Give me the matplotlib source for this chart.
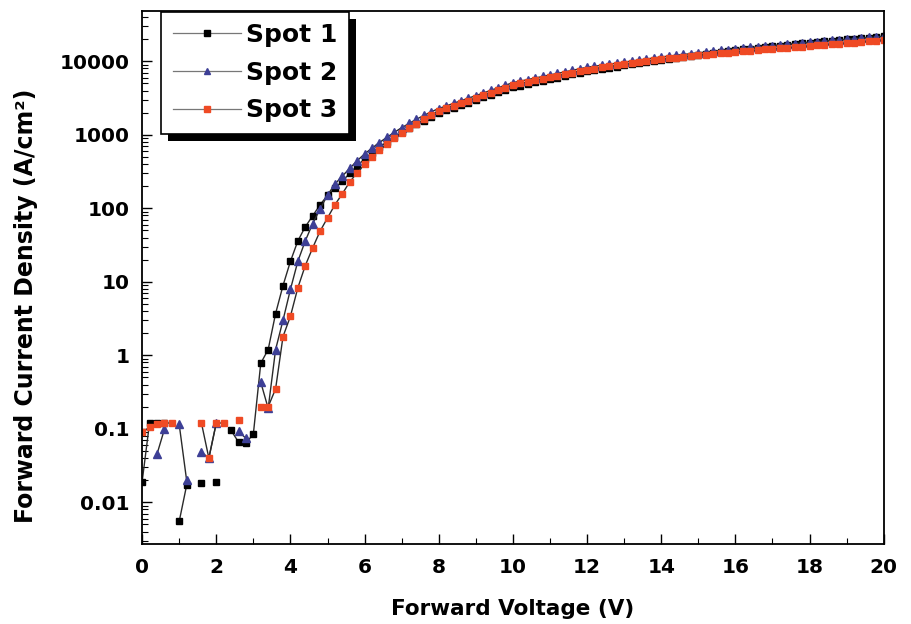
import numpy as np
import matplotlib
matplotlib.use('Agg')
import matplotlib.pyplot as plt
from matplotlib.patches import Rectangle
from matplotlib.transforms import IdentityTransform
from matplotlib.ticker import MultipleLocator, LogLocator, FixedLocator, FixedFormatter

plt.rcParams['font.family'] = ['DejaVu Sans']
plt.rcParams['font.weight'] = 'bold'

nan = np.nan

# forward voltage sweep, 0 to 20 V in 0.2 V steps
volts = np.round(np.arange(101) * 0.2, 1)

spot1 = [0.019, 0.12, 0.12, 0.12, nan, 0.0055, 0.017, nan, 0.0185, nan,
         0.019, nan, 0.095, 0.066, 0.064, 0.085,
         0.78, 1.2, 3.7, 8.9, 19, 36, 56, 79, 112, 150, 190, 234,
         300, 380, 470, 570, 680, 800, 935, 1080, 1230, 1390, 1560, 1760, 1980,
         2150, 2330, 2530, 2740, 2980, 3230, 3500, 3790, 4110, 4460,
         4690, 4930, 5180, 5440, 5710, 6000, 6310, 6630, 6970, 7320,
         7640, 7910, 8200, 8490, 8800, 9130, 9480, 9840, 10220, 10560,
         10880, 11190, 11520, 11870, 12220, 12590, 12960, 13350, 13740, 14210,
         14550, 14900, 15260, 15630, 16000, 16390, 16780, 17180, 17590, 18040,
         18400, 18760, 19130, 19500, 19880, 20270, 20660, 21060, 21470, 21950]

spot2 = [nan, nan, 0.045, 0.098, nan, 0.115, 0.02, nan, 0.048, 0.04,
         0.12, nan, nan, 0.093, 0.074, nan,
         0.43, 0.19, 1.2, 3.0, 7.9, 19, 36, 62, 98, 151, 214, 275,
         350, 445, 550, 660, 785, 925, 1080, 1250, 1430, 1630, 1840, 2060, 2280,
         2470, 2680, 2910, 3150, 3420, 3710, 4020, 4360, 4730, 5130,
         5380, 5650, 5930, 6220, 6530, 6850, 7190, 7540, 7920, 8310,
         8580, 8870, 9160, 9460, 9770, 10090, 10420, 10760, 11120, 11480,
         11780, 12080, 12390, 12710, 13030, 13370, 13710, 14070, 14430, 14800,
         15110, 15430, 15750, 16080, 16420, 16770, 17120, 17480, 17850, 18220,
         18560, 18910, 19260, 19620, 19980, 20350, 20730, 21120, 21510, 21910]

spot3 = [0.09, 0.105, 0.115, 0.12, 0.12, nan, nan, nan, 0.12, 0.04,
         0.12, 0.12, nan, 0.13, nan, nan,
         0.20, 0.20, 0.35, 1.8, 3.4, 8.3, 16.6, 29, 49, 74, 112, 158,
         229, 305, 395, 500, 620, 750, 895, 1050, 1220, 1400, 1620, 1860, 2120,
         2300, 2490, 2700, 2930, 3180, 3450, 3740, 4050, 4400, 4770,
         5000, 5250, 5510, 5780, 6070, 6370, 6690, 7010, 7370, 7730,
         7980, 8250, 8520, 8800, 9090, 9380, 9690, 10010, 10340, 10680,
         10940, 11200, 11480, 11750, 12030, 12310, 12590, 12880, 13160, 13440,
         13700, 13960, 14230, 14500, 14770, 15040, 15320, 15600, 15880, 16170,
         16470, 16770, 17070, 17380, 17690, 18010, 18330, 18660, 19060, 19400]

labels = ['Spot 1', 'Spot 2', 'Spot 3']
ytick_vals = [0.01, 0.1, 1, 10, 100, 1000, 10000]
ytick_text = ['0.01', '0.1', '1', '10', '100', '1000', '10000']

fig = plt.figure(figsize=(9.11, 6.24), dpi=100)
ax = fig.add_axes([0.156, 0.128, 0.814, 0.855])

line_c = '#2a2a2a'
ax.plot(volts, spot1, '-', color=line_c, lw=1.0, marker='s', ms=4.7,
        mfc='black', mec='black', label=labels[0])
ax.plot(volts, spot2, '-', color=line_c, lw=1.0, marker='^', ms=5.4,
        mfc='#3d3f96', mec='#3d3f96', label=labels[1])
ax.plot(volts, spot3, '-', color=line_c, lw=1.0, marker='s', ms=4.7,
        mfc='#ef4a24', mec='#ef4a24', label=labels[2])

ax.set_yscale('log')
ax.set_xlim(0, 20)
ax.set_ylim(0.0027, 49000)

ax.xaxis.set_major_locator(MultipleLocator(2))
ax.xaxis.set_minor_locator(MultipleLocator(1))
ax.yaxis.set_major_locator(FixedLocator(ytick_vals))
ax.yaxis.set_major_formatter(FixedFormatter(ytick_text))
ax.yaxis.set_minor_locator(LogLocator(base=10, subs=np.arange(2, 10), numticks=20))

ax.tick_params(which='both', direction='in', top=False, right=False)
ax.tick_params(which='major', length=7, width=1.0, labelsize=14.5)
ax.tick_params(axis='x', which='major', pad=10)
ax.tick_params(axis='y', which='major', pad=9)
ax.tick_params(which='minor', length=4, width=0.8)
for sp in ax.spines.values():
    sp.set_linewidth(1.3)

ax.set_xlabel('Forward Voltage (V)', fontsize=15.5, fontweight='bold', labelpad=16)
ax.set_ylabel('Forward Current Density (A/cm²)', fontsize=17, fontweight='bold')
ax.yaxis.set_label_coords(-0.141, 0.446)

leg = ax.legend(loc='upper left', bbox_to_anchor=(0.026, 0.998), fontsize=18,
                frameon=True, fancybox=False, edgecolor='black', numpoints=1,
                handlelength=2.75, handletextpad=0.2, borderpad=0.45,
                borderaxespad=0.0, labelspacing=0.55, framealpha=1.0)
leg.get_frame().set_linewidth(1.2)
for h, c in zip(leg.get_lines(), ['black', '#3d3f96', '#ef4a24']):
    h.set_color('#777777')
    h.set_linewidth(0.9)
    h.set_markerfacecolor(c)
    h.set_markeredgecolor(c)
    h.set_markersize(4)

# thick black drop shadow behind the legend box
fig.canvas.draw()
bb = leg.get_window_extent()
shadow = Rectangle((bb.x0 + 7, bb.y0 - 7), bb.width, bb.height,
                   transform=IdentityTransform(), facecolor='black',
                   edgecolor='none', zorder=4.9, clip_on=False)
ax.add_artist(shadow)

fig.savefig('out.png', dpi=100)
